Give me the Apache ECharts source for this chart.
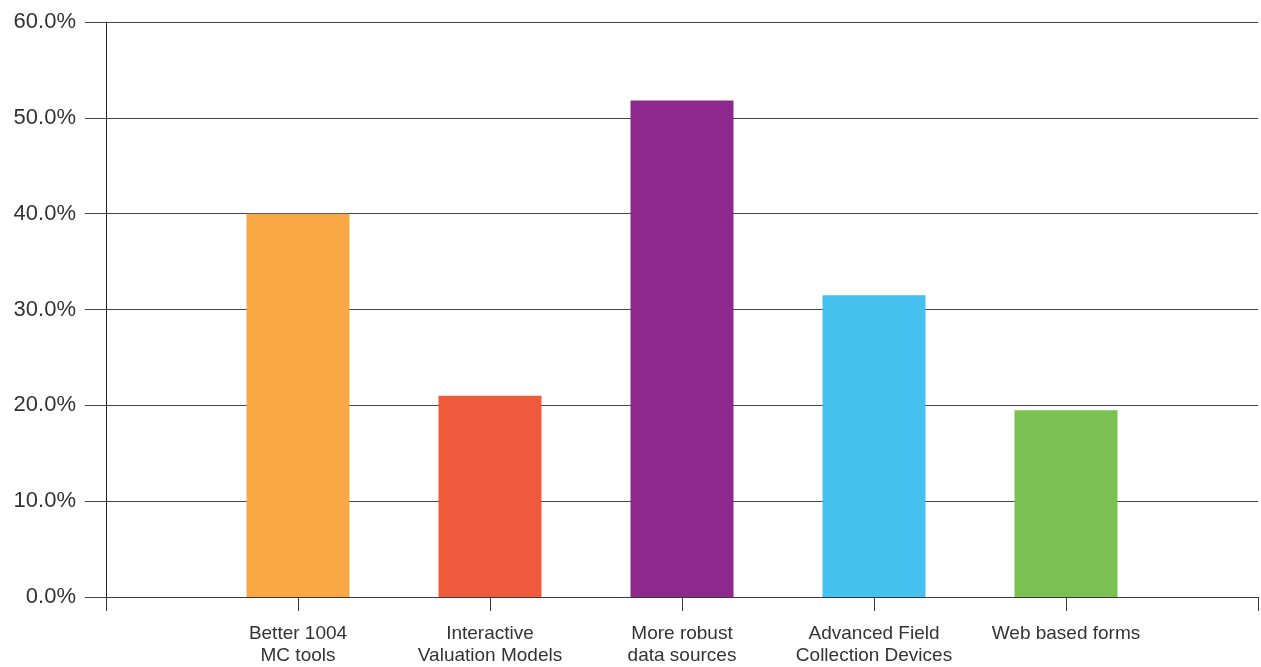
<!DOCTYPE html>
<html>
<head>
<meta charset="utf-8">
<script src="https://cdn.jsdelivr.net/npm/echarts@6/dist/echarts.min.js"></script>
<style>
  html, body { margin: 0; padding: 0; background: #ffffff; overflow: hidden; }
  #chart { width: 1261px; height: 667px; }
</style>
</head>
<body>
<div id="chart"></div>
<script>
// Survey categories (wrapped onto two lines where needed)
const categories = [
  'Better 1004\nMC tools',
  'Interactive\nValuation Models',
  'More robust\ndata sources',
  'Advanced Field\nCollection Devices',
  'Web based forms'
];
// Share of respondents, in percent
const values = [40.0, 21.0, 51.8, 31.5, 19.5];
const barColors = ['#F9A744', '#F05A3C', '#8E288C', '#44C1EF', '#7AC151'];
const yTicks = { min: 0, max: 60, interval: 10 };

// Empty slots at both ends so the bars sit on the inner ticks
const axisData = [''].concat(categories, ['']);
const seriesData = ['-'].concat(
  values.map((v, i) => ({ value: v, itemStyle: { color: barColors[i] } })),
  ['-']
);

const chart = echarts.init(document.getElementById('chart'), null, { renderer: 'canvas', width: 1261, height: 667 });
chart.setOption({
  animation: false,
  backgroundColor: '#ffffff',
  textStyle: { fontFamily: '"Liberation Sans", Arial, sans-serif' },
  grid: { left: 106, width: 1156, top: 22, bottom: 67, containLabel: false },
  xAxis: {
    type: 'category',
    data: axisData,
    boundaryGap: false,
    axisLine: { show: true, lineStyle: { color: '#3a3a3a', width: 1 } },
    axisTick: { show: true, length: 14, interval: 0, lineStyle: { color: '#3a3a3a', width: 1 } },
    axisLabel: {
      interval: 0,
      margin: 26,
      color: '#333333',
      fontSize: 19,
      lineHeight: 22,
      align: 'center'
    },
    splitLine: { show: false }
  },
  yAxis: {
    type: 'value',
    min: yTicks.min,
    max: yTicks.max,
    interval: yTicks.interval,
    axisLine: { show: true, lineStyle: { color: '#222222', width: 1 } },
    axisTick: { show: true, length: 21, lineStyle: { color: '#444444', width: 1 } },
    axisLabel: {
      margin: 30,
      color: '#333333',
      fontSize: 22,
      formatter: v => v.toFixed(1) + '%'
    },
    splitLine: { show: true, lineStyle: { color: '#444444', width: 1 } }
  },
  series: [{
    type: 'bar',
    data: seriesData,
    barWidth: 103
  }]
});
</script>
</body>
</html>
